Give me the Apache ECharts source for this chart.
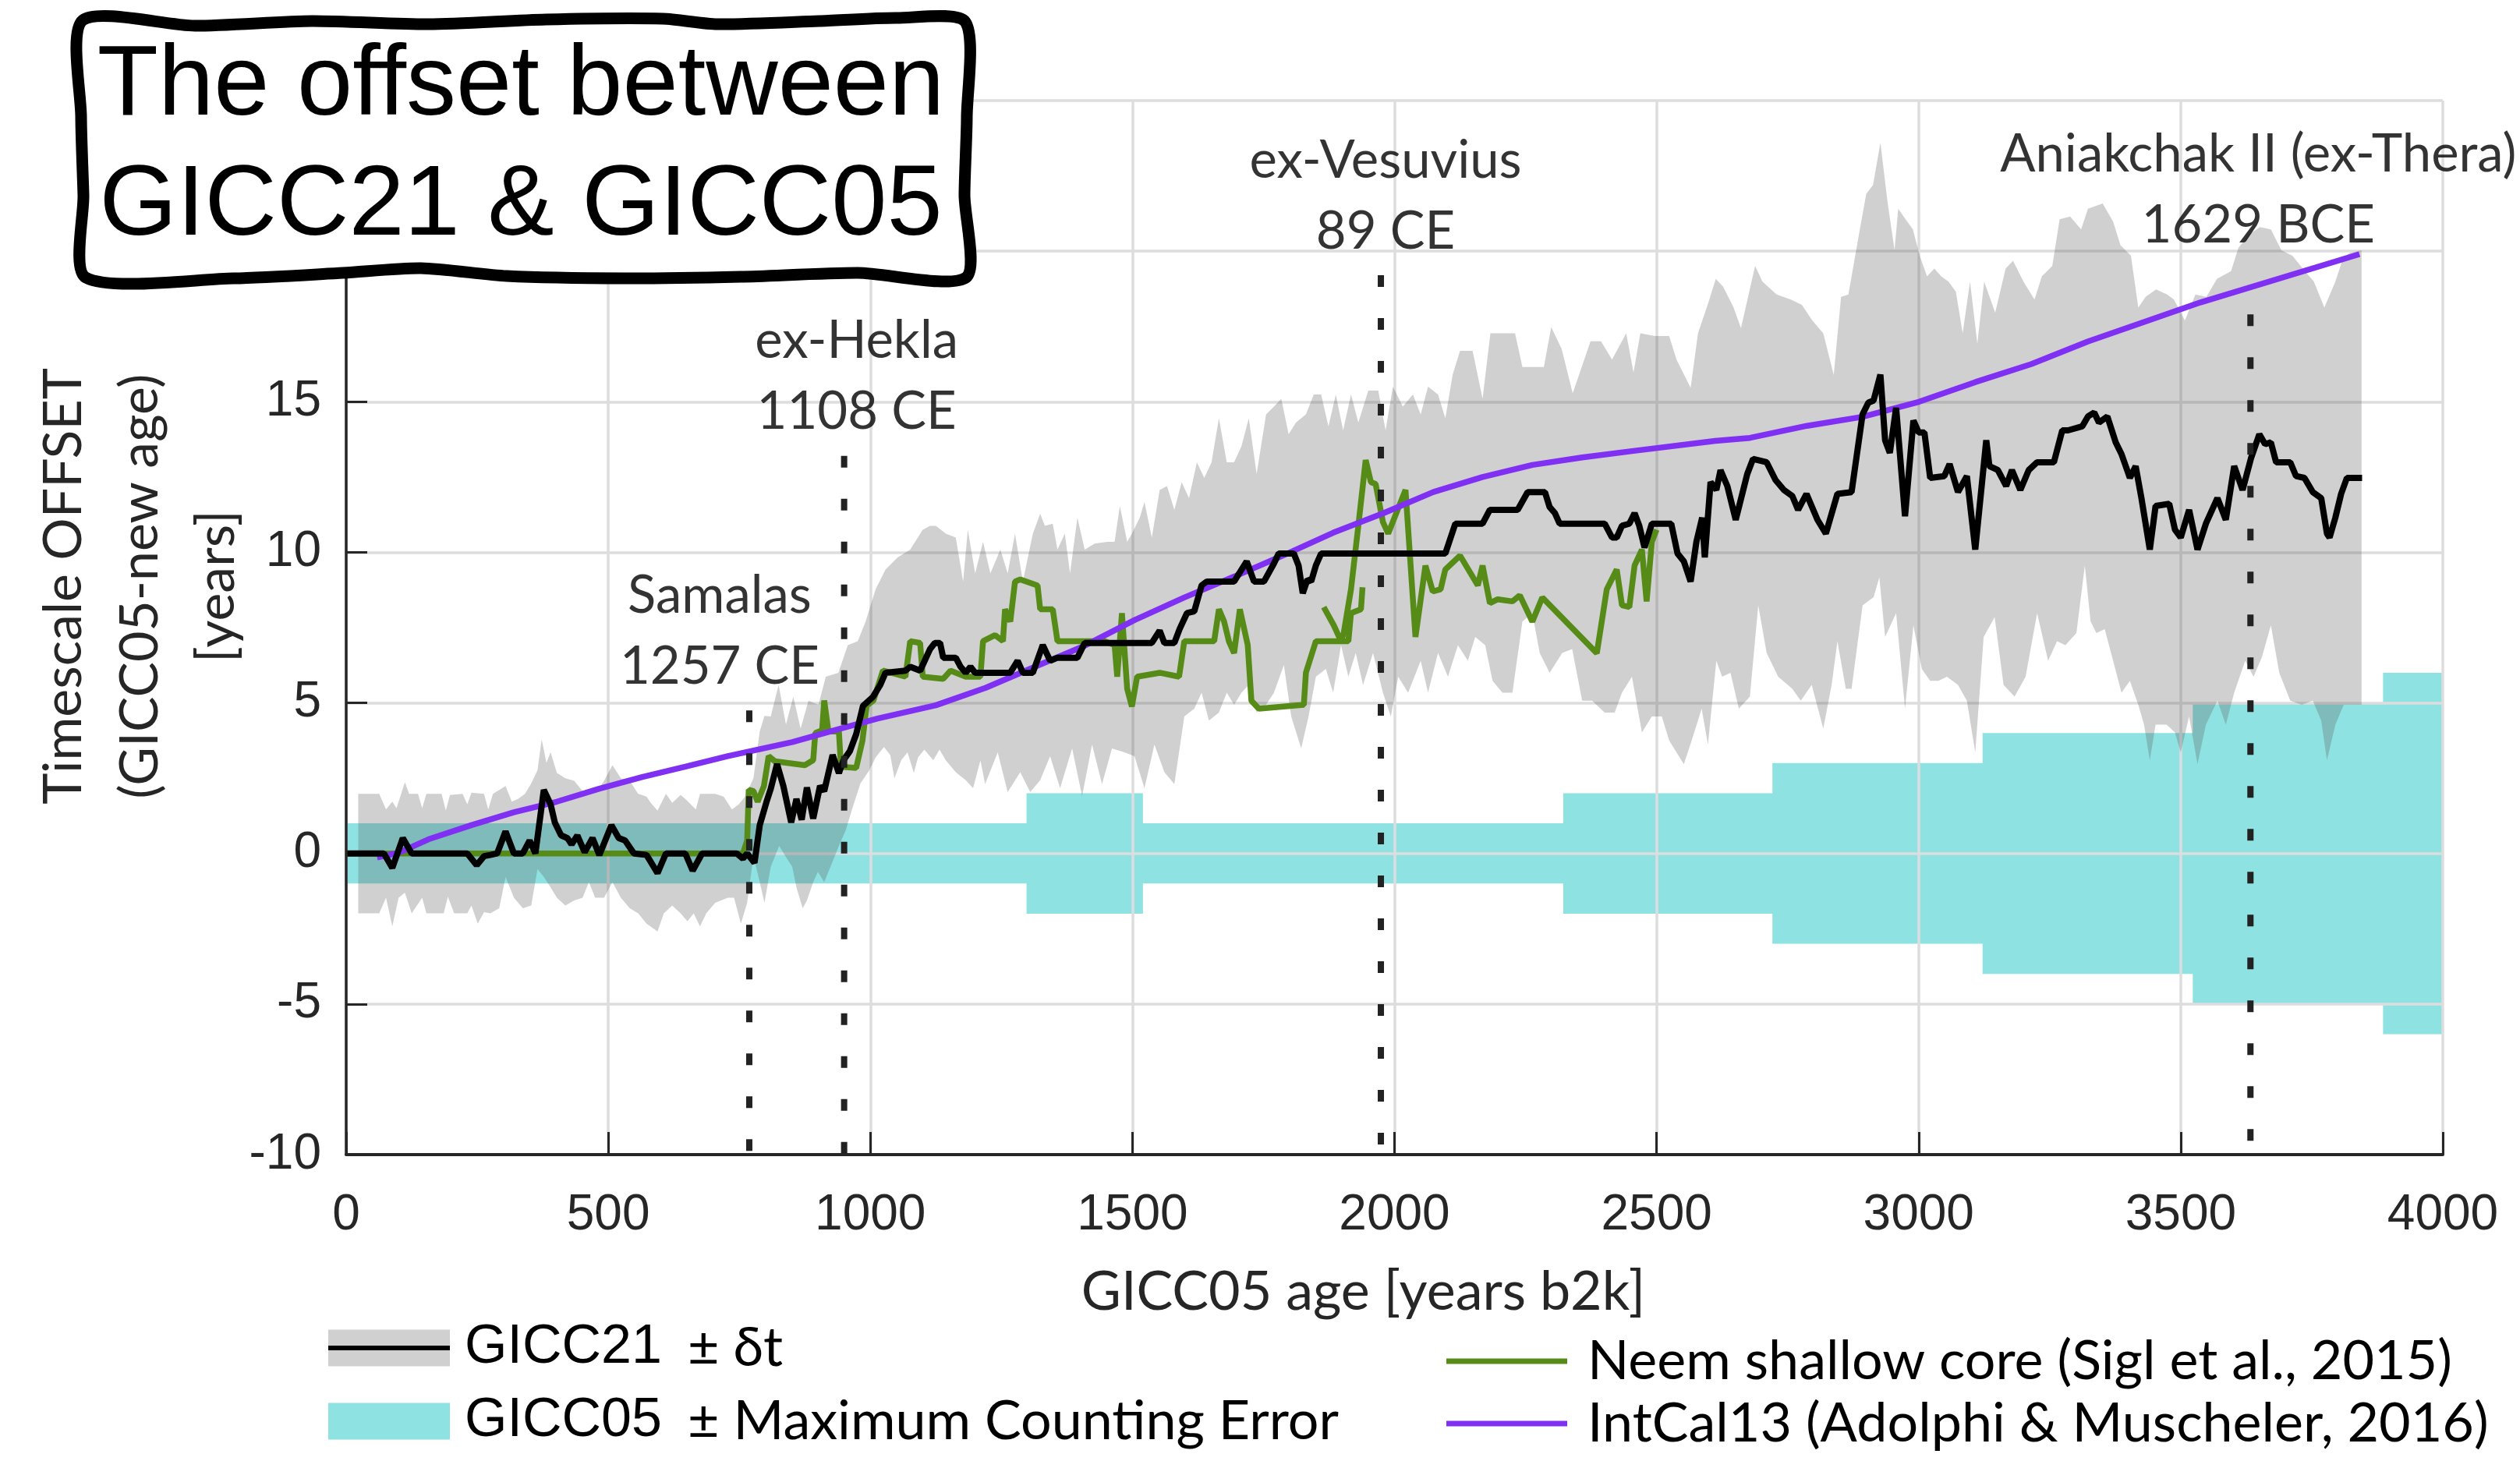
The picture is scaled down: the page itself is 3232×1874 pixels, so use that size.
<!DOCTYPE html>
<html><head><meta charset="utf-8">
<script src="https://cdn.jsdelivr.net/npm/echarts/dist/echarts.min.js"></script>
<style>html,body{margin:0;padding:0;background:#fff}#c{width:3232px;height:1874px}</style>
</head><body><div id="c"></div>
<script>
// ---------------- DATA ----------------
const xTicks = [0, 500, 1000, 1500, 2000, 2500, 3000, 3500, 4000];

// GICC05 maximum counting error: step edges (years b2k) and half-widths (years)
const countErrEdges = [0, 1298, 1520, 2322, 2721, 3122, 3523, 3886, 4000];
const countErrHalf  = [1, 2, 1, 2, 3, 4, 5, 6];

// GICC21 offset (black)
const gicc21 = [[2,0],[72,0],[88,-0.48],[108,0.51],[125,0],[231,0],[249,-0.39],[263,-0.09],[275,-0.05],[288,0],[304,0.73],[320,0],[337,0],[350,0.43],[361,0],[377,2.11],[390,1.63],[398,1.03],[410,0.6],[422,0.51],[430,0.3],[441,0.6],[455,0.04],[470,0.51],[483,-0.05],[506,0.94],[520,0.51],[532,0.43],[549,0],[573,-0.05],[594,-0.65],[610,0],[647,0],[661,-0.57],[679,0],[745,0],[757,-0.17],[765,0],[779,-0.31],[789,0.94],[802,1.72],[810,2.15],[822,2.97],[834,2.24],[849,1.03],[859,1.81],[869,1.12],[879,2.19],[891,1.16],[904,2.24],[912,2.07],[928,3.27],[940,2.67],[949,3.1],[961,3.4],[973,3.96],[986,4.9],[1005,5.2],[1019,5.6],[1029,6.0],[1067,6.07],[1076,6.2],[1095,6.07],[1114,6.79],[1123,6.99],[1133,6.99],[1139,6.5],[1163,6.5],[1172,6.2],[1182,6.0],[1191,6.2],[1200,6.0],[1267,6.0],[1281,6.4],[1291,6.0],[1310,6.0],[1329,6.92],[1343,6.4],[1357,6.5],[1395,6.5],[1409,6.99],[1537,6.99],[1552,7.4],[1561,6.99],[1580,6.99],[1590,7.45],[1604,7.98],[1618,8.04],[1632,8.9],[1642,9.03],[1694,9.03],[1718,9.7],[1732,9.03],[1751,9.03],[1770,9.63],[1779,9.96],[1808,9.96],[1817,9.56],[1825,8.64],[1834,9.1],[1841,9.03],[1850,9.56],[1860,9.96],[2097,9.96],[2116,10.95],[2168,10.95],[2182,11.41],[2235,11.41],[2254,12.0],[2287,12.0],[2296,11.5],[2306,11.3],[2315,10.95],[2401,10.95],[2415,10.49],[2424,10.49],[2434,10.88],[2448,10.95],[2458,11.3],[2467,10.88],[2477,10.16],[2491,10.95],[2528,10.95],[2540,9.96],[2552,9.7],[2565,9.03],[2576,10.35],[2587,11.15],[2592,9.83],[2603,12.33],[2614,12.07],[2622,12.73],[2635,12.2],[2651,11.08],[2673,12.6],[2684,13.1],[2710,12.99],[2727,12.4],[2743,12.07],[2759,11.87],[2770,11.41],[2786,11.94],[2807,11.08],[2823,10.62],[2845,11.94],[2872,12.0],[2893,14.58],[2904,14.97],[2914,15.04],[2927,15.9],[2936,13.72],[2945,13.3],[2957,14.8],[2974,11.2],[2990,14.38],[3000,13.98],[3011,13.98],[3022,12.47],[3049,12.53],[3059,12.93],[3075,12.0],[3092,12.53],[3108,10.09],[3129,13.72],[3135,12.86],[3151,12.73],[3167,12.2],[3178,12.73],[3194,12.07],[3210,12.73],[3226,12.99],[3258,12.99],[3274,14.05],[3285,14.05],[3312,14.18],[3323,14.51],[3335,14.64],[3344,14.31],[3360,14.51],[3376,13.65],[3387,13.26],[3403,12.47],[3414,12.86],[3425,11.8],[3441,10.09],[3452,11.54],[3478,11.61],[3489,10.75],[3500,10.49],[3516,11.41],[3532,10.09],[3548,10.95],[3570,11.8],[3586,11.08],[3602,12.86],[3618,12.07],[3634,13.12],[3650,13.92],[3661,13.59],[3672,13.65],[3682,12.99],[3709,12.99],[3720,12.53],[3736,12.47],[3752,12.0],[3768,11.8],[3779,10.62],[3784,10.49],[3795,11.15],[3806,11.94],[3817,12.47],[3846,12.47]];

// GICC21 +/- delta t envelope (grey band)
const bandUpper = [[23,1.98],[63,1.98],[76,1.46],[88,1.72],[96,1.5],[112,2.37],[120,1.98],[137,1.98],[145,1.5],[153,1.98],[182,1.98],[190,1.42],[198,1.94],[222,1.98],[231,1.63],[239,2.02],[263,1.98],[271,1.46],[280,1.98],[304,2.24],[316,1.72],[328,1.81],[341,1.98],[353,2.32],[365,2.76],[373,3.79],[382,3.01],[390,3.36],[402,2.67],[418,2.5],[435,2.41],[451,2.07],[467,1.98],[479,2.07],[492,2.41],[508,2.93],[524,2.5],[541,2.41],[557,1.98],[573,1.89],[581,1.68],[594,1.42],[610,1.98],[622,1.68],[638,1.94],[647,1.81],[667,1.46],[675,1.98],[704,1.98],[720,1.89],[736,1.46],[749,1.63],[761,1.89],[777,2.5],[789,4.05],[798,4.57],[810,4.55],[825,5.6],[839,4.28],[853,5.2],[867,4.15],[882,5.07],[901,4.94],[915,5.87],[939,6.0],[957,6.92],[976,7.05],[991,7.7],[1010,8.77],[1029,9.43],[1052,9.83],[1076,10.09],[1100,10.75],[1114,10.88],[1125,10.88],[1144,10.62],[1163,10.49],[1177,9.03],[1186,10.75],[1200,9.3],[1215,10.35],[1229,9.3],[1248,10.09],[1262,9.3],[1276,10.62],[1291,9.03],[1310,10.62],[1324,11.28],[1333,10.88],[1348,10.95],[1357,10.09],[1371,10.62],[1381,9.3],[1395,11.15],[1409,10.09],[1428,10.29],[1452,10.35],[1466,10.35],[1476,11.54],[1490,10.35],[1499,10.62],[1514,11.15],[1523,11.67],[1537,10.49],[1552,12.07],[1566,12.2],[1580,11.41],[1594,12.33],[1608,11.8],[1623,12.99],[1637,12.47],[1651,12.99],[1665,14.45],[1680,12.99],[1694,12.99],[1708,13.52],[1722,14.45],[1737,12.6],[1755,14.58],[1770,14.84],[1784,15.1],[1798,13.92],[1812,14.31],[1831,14.58],[1846,15.24],[1860,15.24],[1874,14.18],[1888,15.24],[1902,14.05],[1917,15.24],[1931,14.31],[1950,15.37],[1969,15.37],[1983,14.05],[1997,15.5],[2016,14.84],[2035,15.24],[2050,14.58],[2064,15.5],[2083,15.24],[2097,14.45],[2111,15.9],[2125,16.69],[2149,16.69],[2168,15.1],[2183,17.27],[2230,17.27],[2244,16.15],[2285,16.15],[2299,17.48],[2319,16.75],[2340,15.28],[2374,17.01],[2394,17.01],[2415,16.4],[2442,17.27],[2456,15.97],[2469,17.27],[2497,17.18],[2524,17.18],[2538,16.4],[2565,15.46],[2579,17.27],[2599,18.3],[2613,19.08],[2627,18.82],[2647,18.13],[2661,17.44],[2688,19.51],[2702,18.99],[2729,18.56],[2756,18.39],[2777,18.22],[2797,17.7],[2818,17.27],[2838,15.89],[2852,18.48],[2866,18.56],[2886,20.55],[2900,21.9],[2913,22.2],[2927,23.6],[2941,21.58],[2954,20.03],[2961,21.41],[2975,21.06],[2989,20.72],[3002,19.85],[3016,19.16],[3030,19.42],[3043,19.16],[3057,18.99],[3071,18.65],[3084,17.27],[3098,18.99],[3112,16.92],[3125,18.99],[3146,17.96],[3166,19.42],[3180,19.68],[3200,18.99],[3221,18.39],[3235,19.16],[3255,19.51],[3269,21.06],[3289,21.15],[3310,20.72],[3323,21.41],[3351,21.58],[3371,20.98],[3385,20.2],[3405,19.85],[3419,18.13],[3433,18.48],[3453,18.73],[3474,18.56],[3487,18.39],[3508,17.7],[3528,18.56],[3549,18.48],[3569,19.08],[3596,19.34],[3610,20.11],[3630,20.55],[3651,20.8],[3672,20.72],[3692,20.03],[3713,19.85],[3733,19.42],[3754,18.99],[3774,18.13],[3795,18.99],[3808,19.68],[3822,19.94],[3845,20.03]];
const bandLower = [[23,-1.99],[63,-1.99],[76,-1.47],[88,-2.42],[100,-1.47],[112,-1.3],[125,-1.99],[145,-1.47],[153,-1.99],[186,-1.99],[194,-1.43],[206,-1.99],[231,-1.99],[239,-1.73],[251,-2.33],[263,-1.95],[275,-1.99],[292,-1.82],[304,-0.78],[320,-1.47],[337,-1.82],[353,-1.73],[365,-0.52],[377,-0.78],[390,-1.13],[402,-1.47],[418,-1.73],[435,-1.56],[451,-1.47],[463,-0.95],[475,-1.47],[492,-1.47],[508,-0.95],[524,-1.47],[541,-1.82],[557,-1.99],[573,-2.33],[594,-2.59],[606,-1.99],[622,-1.73],[638,-1.99],[651,-2.25],[663,-1.99],[675,-2.42],[687,-1.99],[704,-1.64],[728,-1.47],[740,-1.47],[753,-2.33],[765,-1.64],[777,-0.09],[789,-0.95],[798,-1.64],[810,-0.44],[826,0.25],[838,-0.09],[851,-0.44],[859,-1.13],[871,-1.82],[879,-1.56],[891,-0.95],[900,-0.61],[912,-0.95],[924,-0.44],[940,0.25],[953,0.77],[965,1.46],[981,2.32],[998,2.76],[1010,3.19],[1026,3.53],[1038,3.27],[1046,2.5],[1059,3.1],[1071,3.36],[1083,2.67],[1091,3.19],[1103,3.45],[1120,3.1],[1132,3.45],[1144,3.09],[1163,2.7],[1182,2.43],[1196,2.17],[1210,3.09],[1219,2.3],[1243,3.36],[1262,2.04],[1286,2.7],[1305,2.04],[1324,2.43],[1343,3.23],[1362,2.17],[1385,3.49],[1404,1.9],[1423,3.62],[1442,2.3],[1461,3.49],[1485,3.36],[1504,3.23],[1523,2.17],[1542,3.62],[1561,2.7],[1580,2.3],[1599,4.55],[1618,4.81],[1632,5.34],[1646,4.41],[1665,4.68],[1680,5.34],[1694,4.94],[1708,5.34],[1722,5.6],[1737,4.68],[1755,4.94],[1770,5.34],[1789,6.26],[1803,4.55],[1822,3.49],[1836,4.55],[1850,5.87],[1869,6.13],[1883,5.34],[1898,6.92],[1912,5.87],[1926,6.66],[1940,5.6],[1959,6.66],[1978,5.34],[1993,4.55],[2007,5.87],[2026,5.34],[2050,6.4],[2064,5.34],[2083,6.66],[2102,5.87],[2121,6.92],[2140,6.4],[2154,7.19],[2173,6.92],[2187,5.73],[2206,5.34],[2225,5.34],[2244,7.7],[2263,7.98],[2277,6.66],[2296,6.0],[2320,6.66],[2339,6.79],[2358,5.07],[2377,5.07],[2401,4.68],[2420,4.68],[2434,5.34],[2453,5.87],[2472,4.02],[2491,4.55],[2510,4.55],[2524,3.75],[2538,3.36],[2552,2.96],[2567,3.75],[2586,4.81],[2598,3.62],[2614,6.4],[2625,5.87],[2641,6.0],[2657,4.81],[2678,5.21],[2694,8.24],[2710,6.66],[2732,5.87],[2759,5.47],[2775,5.07],[2796,5.6],[2818,4.15],[2834,5.6],[2845,7.05],[2861,5.47],[2872,5.47],[2893,8.24],[2914,8.51],[2925,9.17],[2936,7.19],[2957,7.98],[2974,4.81],[2990,7.58],[3006,6.13],[3022,5.73],[3038,5.73],[3054,5.87],[3075,5.6],[3092,5.07],[3108,3.36],[3124,7.19],[3145,7.85],[3162,5.6],[3183,5.21],[3204,5.87],[3226,7.98],[3247,6.4],[3264,7.05],[3280,6.92],[3301,7.32],[3317,9.56],[3328,7.71],[3339,7.32],[3355,7.45],[3371,6.4],[3387,5.34],[3403,5.73],[3419,4.94],[3430,4.28],[3441,3.09],[3452,4.28],[3473,4.28],[3489,4.02],[3500,3.36],[3516,4.55],[3532,2.96],[3548,4.28],[3570,5.07],[3586,4.28],[3602,5.34],[3623,6.4],[3639,5.87],[3655,6.53],[3672,7.58],[3688,6.0],[3709,5.07],[3731,4.94],[3752,5.07],[3768,4.41],[3779,3.09],[3795,4.28],[3811,4.94],[3845,4.94]];

// NEEM shallow core (green), two overlapping pieces
const neemA = [[2,0],[757,0],[765,0.43],[768,2.11],[777,2.07],[785,1.72],[797,2.24],[806,3.23],[818,3.06],[875,2.93],[891,3.1],[895,4.0],[908,4.09],[912,5.08],[920,4.05],[940,4.05],[944,2.88],[973,2.84],[985,3.75],[993,4.91],[1006,5.08],[1024,6.07],[1067,5.87],[1076,7.05],[1095,6.99],[1100,5.87],[1139,5.8],[1153,6.07],[1182,5.87],[1210,5.87],[1215,7.05],[1238,7.25],[1253,7.05],[1257,8.11],[1267,7.7],[1276,9.03],[1286,9.1],[1319,8.9],[1324,8.11],[1348,8.11],[1357,7.05],[1447,7.05],[1466,6.92],[1471,5.87],[1480,7.98],[1490,5.47],[1499,4.88],[1509,5.87],[1552,6.0],[1589,5.87],[1599,7.05],[1656,7.05],[1665,8.11],[1675,7.7],[1684,7.05],[1694,6.65],[1705,8.11],[1720,6.92],[1727,5.07],[1741,4.81],[1827,4.94],[1831,6.0],[1850,7.05],[1912,7.05],[1917,7.98],[1936,8.11],[1939,8.84]];
const neemB = [[1865,8.18],[1884,7.58],[1898,7.05],[1903,7.3],[1917,8.77],[1931,10.88],[1945,13.06],[1955,12.33],[1964,12.27],[1978,11.0],[1988,10.62],[2021,12.07],[2040,7.19],[2059,9.56],[2073,8.7],[2088,8.77],[2097,9.43],[2125,9.89],[2159,8.9],[2168,9.56],[2182,8.31],[2197,8.44],[2225,8.37],[2239,8.57],[2263,7.7],[2282,8.5],[2386,6.65],[2405,8.77],[2424,9.43],[2434,8.24],[2448,8.18],[2458,9.56],[2472,10.09],[2481,8.37],[2491,10.35],[2500,10.75]];

// IntCal13 (purple)
const intcal13 = [[59,-0.13],[100,0.02],[157,0.47],[239,0.94],[320,1.37],[402,1.72],[483,2.15],[565,2.54],[647,2.88],[728,3.23],[851,3.7],[932,4.09],[1014,4.48],[1125,4.92],[1220,5.5],[1314,6.2],[1409,6.9],[1504,7.75],[1599,8.5],[1695,9.2],[1788,9.9],[1883,10.65],[1979,11.3],[2074,12.0],[2168,12.5],[2263,12.9],[2358,13.15],[2453,13.36],[2612,13.7],[2678,13.8],[2787,14.2],[2893,14.5],[3001,15.0],[3108,15.65],[3215,16.25],[3323,17.0],[3430,17.65],[3538,18.3],[3841,19.9]];

// Volcanic tie points
const eruptX = [769, 950, 1974, 3633];
const eruptTop = [4.75, 13.2, 19.2, 17.9];
const eruptLabels = ['Samalas\n1257 CE', 'ex-Hekla\n1108 CE', 'ex-Vesuvius\n89 CE', 'Aniakchak II (ex-Thera)\n1629 BCE'];

// Legend entries
const legendNames = ['GICC21 ± δt', 'GICC05 ± Maximum Counting Error', 'Neem shallow core (Sigl et al., 2015)', 'IntCal13 (Adolphi & Muscheler, 2016)'];

// ---------------- STYLE ----------------
const C_CYAN = '#8ee2e2', C_GREY = 'rgba(91,91,91,0.286)', C_GREEN = '#558b16', C_PURPLE = '#8030f2';
const labelOffsets = [[-38, 0], [16, 0], [6, 0], [10, -58]];
const CAL = 'Lato';
const ARIAL = 'Liberation Sans';

const chart = echarts.init(document.getElementById('c'));

const series = [];
series.push({
  type: 'custom', name: legendNames[1], color: C_CYAN, z: 1, silent: true, clip: true,
  data: [[2000, 0]],
  renderItem: function (params, api) {
    const pts = [];
    for (let i = 0; i < countErrHalf.length; i++) {
      pts.push(api.coord([countErrEdges[i], countErrHalf[i]]));
      pts.push(api.coord([countErrEdges[i + 1], countErrHalf[i]]));
    }
    for (let i = countErrHalf.length - 1; i >= 0; i--) {
      pts.push(api.coord([countErrEdges[i + 1], -countErrHalf[i]]));
      pts.push(api.coord([countErrEdges[i], -countErrHalf[i]]));
    }
    return { type: 'polygon', shape: { points: pts }, style: { fill: C_CYAN } };
  }
});
series.push({
  type: 'custom', name: 'band', z: 3, silent: true, clip: true,
  data: [[2000, 5]],
  renderItem: function (params, api) {
    const pts = bandUpper.map(p => api.coord(p));
    for (let i = bandLower.length - 1; i >= 0; i--) pts.push(api.coord(bandLower[i]));
    return { type: 'polygon', shape: { points: pts }, style: { fill: C_GREY } };
  }
});
const lineBase = { type: 'line', symbol: 'none', silent: true, animation: false };
series.push(Object.assign({}, lineBase, { name: legendNames[2], color: C_GREEN, data: neemA, z: 4, lineStyle: { color: C_GREEN, width: 7.5 } }));
series.push(Object.assign({}, lineBase, { name: legendNames[2], color: C_GREEN, data: neemB, z: 4, lineStyle: { color: C_GREEN, width: 7.5 } }));
series.push(Object.assign({}, lineBase, { name: legendNames[3], color: C_PURPLE, data: intcal13, z: 5, lineStyle: { color: C_PURPLE, width: 7.5 } }));
series.push(Object.assign({}, lineBase, { name: legendNames[0], color: '#000', data: gicc21, z: 6, lineStyle: { color: '#000', width: 8 } }));
eruptX.forEach((x, i) => {
  series.push(Object.assign({}, lineBase, { name: 'erupt' + i, data: [[x, eruptTop[i]], [x, -10]], z: 7,
    lineStyle: { color: '#222', width: 8, type: [15, 40], cap: 'butt' } }));
});
series.push({
  type: 'scatter', name: 'eruptLabels', silent: true, z: 8, symbolSize: 1, itemStyle: { color: 'rgba(0,0,0,0)' },
  data: eruptX.map((x, i) => ({
    value: [x, eruptTop[i]],
    label: { show: true, position: 'top', distance: 10, offset: labelOffsets[i], formatter: eruptLabels[i],
      fontFamily: CAL, fontSize: 67, lineHeight: 91, color: '#000', align: 'center' }
  }))
});

const legendRich = {
  a: { fontFamily: ARIAL, fontSize: 70, width: 286, lineHeight: 80, color: '#000' },
  b: { fontFamily: CAL, fontSize: 70, lineHeight: 80, color: '#000' }
};
function leftLegend(i, top, color) {
  return {
    data: [{ name: legendNames[i], itemStyle: { color: color } }],
    left: 421, top: top, padding: 0, itemWidth: 156, itemHeight: 47, icon: 'rect', selectedMode: false,
    formatter: n => { const k = n.indexOf(' ±'); return '{a|' + n.slice(0, k) + '}{b|' + n.slice(k + 1) + '}'; },
    textStyle: { padding: [0, 0, 0, 14], lineHeight: 80, rich: legendRich }
  };
}
function rightLegend(i, top, color) {
  return {
    data: [{ name: legendNames[i], itemStyle: { color: color } }],
    left: 1855, top: top, padding: 0, itemWidth: 155, itemHeight: 7, icon: 'rect', selectedMode: false,
    textStyle: { fontFamily: CAL, fontSize: 70, lineHeight: 80, color: '#000', padding: [0, 0, 0, 21] }
  };
}

const option = {
  animation: false,
  backgroundColor: '#fff',
  grid: { left: 444, right: 99, top: 129, bottom: 393 },
  xAxis: {
    type: 'value', min: xTicks[0], max: xTicks[xTicks.length - 1], interval: xTicks[1] - xTicks[0], z: 2,
    axisLine: { onZero: false, lineStyle: { color: '#262626', width: 4 } },
    axisTick: { inside: true, length: 29, lineStyle: { color: '#262626', width: 3 } },
    axisLabel: { fontFamily: ARIAL, fontSize: 64, color: '#262626', margin: 46, formatter: v => String(v) },
    splitLine: { show: true, lineStyle: { color: '#dddddd', width: 3.5 } },
    name: 'GICC05 age [years b2k]', nameLocation: 'middle', nameGap: 136,
    nameTextStyle: { fontFamily: CAL, fontSize: 70, lineHeight: 80, color: '#262626', padding: [0, 80, 0, 0] }
  },
  yAxis: {
    type: 'value', min: -10, max: 25, interval: 5, z: 2,
    axisLine: { show: true, onZero: false, lineStyle: { color: '#262626', width: 3.5 } },
    axisTick: { show: true, inside: true, length: 27, lineStyle: { color: '#262626', width: 3 } },
    axisLabel: { fontFamily: ARIAL, fontSize: 64, color: '#262626', margin: 32, formatter: v => String(v) },
    splitLine: { show: true, lineStyle: { color: '#dddddd', width: 3.5 } },
    name: 'Timescale OFFSET\n(GICC05-new age)\n[years]', nameLocation: 'middle', nameGap: 117, nameRotate: 90,
    nameMoveOverlap: false,
    nameTextStyle: { fontFamily: CAL, fontSize: 68, lineHeight: 98, color: '#262626', padding: [0, 0, 0, 106] }
  },
  legend: [
    leftLegend(0, 1689, '#d0d0d0'),
    leftLegend(1, 1783, C_CYAN),
    rightLegend(2, 1706, C_GREEN),
    rightLegend(3, 1786, C_PURPLE)
  ],
  graphic: [
    { type: 'rect', z: 100, shape: { x: 421, y: 1726, width: 156, height: 6 }, style: { fill: '#000' } },
    { type: 'polygon', z: 100,
      shape: { smooth: 0.25, points: [[106,26],[250,33],[400,27],[550,31],[700,25],[850,24],[920,31],[1050,27],[1150,23],[1238,28],[1240,150],[1237,250],[1239,356],[1100,350],[950,355],[800,357],[650,354],[540,344],[440,350],[300,357],[110,356],[107,250],[104,150]] },
      style: { fill: '#fff', stroke: '#000', lineWidth: 15, lineJoin: 'round' } },
    { type: 'text', z: 101, x: 668, y: 112, style: { text: 'The offset between', font: '128px "Liberation Sans"', fill: '#000', align: 'center', verticalAlign: 'middle' } },
    { type: 'text', z: 101, x: 668, y: 266, style: { text: 'GICC21 & GICC05', font: '128px "Liberation Sans"', fill: '#000', align: 'center', verticalAlign: 'middle' } }
  ],
  series: series
};
chart.setOption(option);
</script></body></html>
